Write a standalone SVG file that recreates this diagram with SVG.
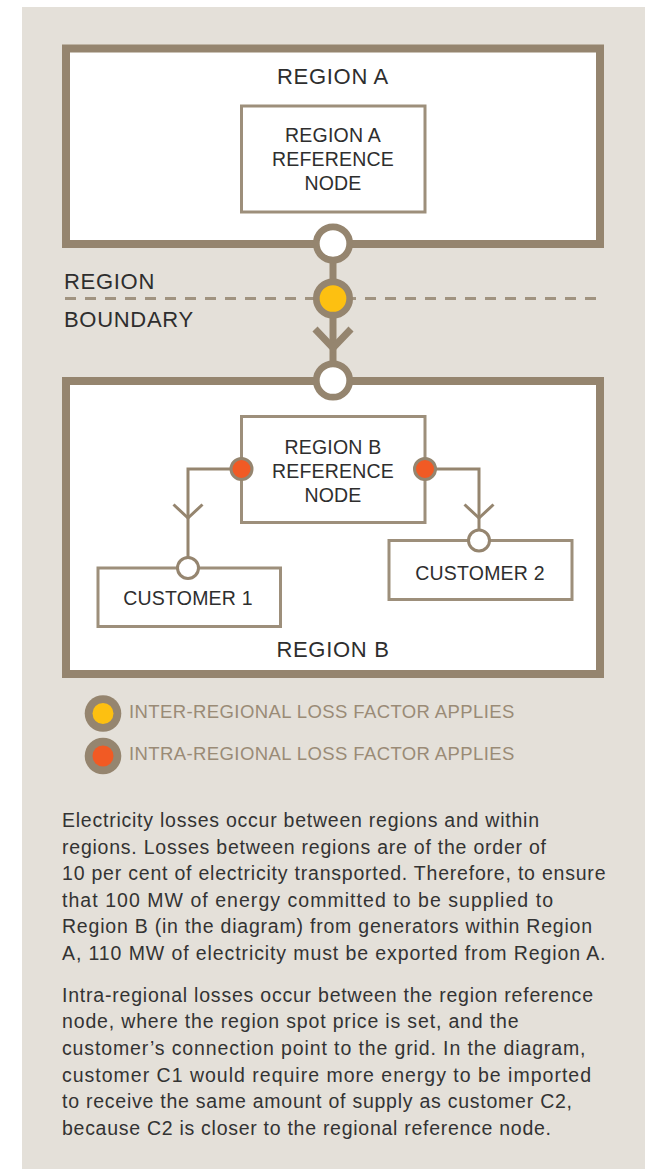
<svg xmlns="http://www.w3.org/2000/svg" width="652" height="1169" viewBox="0 0 652 1169">
<style>
.t{font-family:"Liberation Sans",Arial,sans-serif;fill:#2e2e2e}
.title{font-size:22px;letter-spacing:0.7px}
.node{font-size:19.5px;letter-spacing:0.2px}
.legend{font-family:"Liberation Sans",Arial,sans-serif;font-size:18.5px;letter-spacing:0.4px;fill:#9a8b76}
.body{font-size:19.5px;fill:#333}
.region{fill:#fff;stroke:#95856f;stroke-width:8}
.box{fill:#fff;stroke:#9d8f7b;stroke-width:3}
.big{stroke:#95856f;stroke-width:6.7}
.small{stroke:#95856f;stroke-width:3}
.line{fill:none;stroke:#95856f}
</style>
<rect x="22" y="7" width="623" height="1162" fill="#e4e0d9"/>
<line x1="65" y1="298.5" x2="602" y2="298.5" stroke="#a09380" stroke-width="3" stroke-dasharray="11 9"/>
<g id="region-a">
<rect class="region" x="66" y="48.5" width="534" height="195.5"/>
<text class="t title" x="333" y="84" text-anchor="middle">REGION A</text>
</g>
<g id="region-a-ref">
<rect class="box" x="241.5" y="106" width="183.5" height="106"/>
<text class="t node" x="333" y="142" text-anchor="middle">REGION A</text>
<text class="t node" x="333" y="166" text-anchor="middle">REFERENCE</text>
<text class="t node" x="333" y="190" text-anchor="middle">NODE</text>
</g>
<g id="boundary-label">
<text class="t title" x="64" y="289">REGION</text>
<text class="t title" x="64" y="327">BOUNDARY</text>
</g>
<g id="region-b">
<rect class="region" x="66" y="381" width="534" height="293"/>
<text class="t title" x="333" y="657" text-anchor="middle">REGION B</text>
</g>
<g id="region-b-ref">
<rect class="box" x="241.5" y="416.5" width="183.5" height="106"/>
<text class="t node" x="333" y="454" text-anchor="middle">REGION B</text>
<text class="t node" x="333" y="478" text-anchor="middle">REFERENCE</text>
<text class="t node" x="333" y="502" text-anchor="middle">NODE</text>
</g>
<g id="customer-1">
<rect class="box" x="98" y="568" width="182.5" height="58.5"/>
<text class="t node" x="188" y="605" text-anchor="middle">CUSTOMER 1</text>
</g>
<g id="customer-2">
<rect class="box" x="389" y="540.5" width="183" height="59"/>
<text class="t node" x="480" y="580" text-anchor="middle">CUSTOMER 2</text>
</g>
<g id="connectors">
<line class="line" x1="333" y1="243.5" x2="333" y2="380.5" stroke-width="7"/>
<polyline class="line" points="315,329 333,348 351,329" stroke-width="7"/>
<path class="line" d="M241.5,469 H188 V568" stroke-width="3"/>
<polyline class="line" points="173.5,504.5 188,518 202.5,504.5" stroke-width="3"/>
<path class="line" d="M425,469 H479 V540" stroke-width="3"/>
<polyline class="line" points="464.5,504.5 479,518 493.5,504.5" stroke-width="3"/>
<circle class="big" cx="333" cy="243.5" r="16.7" fill="#fff"/>
<circle class="big" cx="333" cy="298.5" r="16.7" fill="#fdc011"/>
<circle class="big" cx="333" cy="380.5" r="16.7" fill="#fff"/>
<circle class="small" cx="241.5" cy="469" r="10.5" fill="#f15a24"/>
<circle class="small" cx="425" cy="469" r="10.5" fill="#f15a24"/>
<circle class="small" cx="188" cy="568" r="10.5" fill="#fff"/>
<circle class="small" cx="479" cy="540.5" r="10.5" fill="#fff"/>
</g>
<g id="legend">
<circle cx="103" cy="713.5" r="18.3" fill="#95856f"/>
<circle cx="103" cy="713.5" r="10.5" fill="#fdc011"/>
<text class="legend" x="129" y="718">INTER-REGIONAL LOSS FACTOR APPLIES</text>
<circle cx="103" cy="756" r="18.3" fill="#95856f"/>
<circle cx="103" cy="756" r="10.5" fill="#f15a24"/>
<text class="legend" x="129" y="760">INTRA-REGIONAL LOSS FACTOR APPLIES</text>
</g>
<g id="text-1" class="t body">
<text x="62" y="827" textLength="477">Electricity losses occur between regions and within</text>
<text x="62" y="853.5" textLength="484">regions. Losses between regions are of the order of</text>
<text x="62" y="880" textLength="543.5">10 per cent of electricity transported. Therefore, to ensure</text>
<text x="62" y="906.5" textLength="491">that 100 MW of energy committed to be supplied to</text>
<text x="62" y="933" textLength="530">Region B (in the diagram) from generators within Region</text>
<text x="62" y="960" textLength="543.5">A, 110 MW of electricity must be exported from Region A.</text>
</g>
<g id="text-2" class="t body">
<text x="62" y="1001.5" textLength="531">Intra-regional losses occur between the region reference</text>
<text x="62" y="1028" textLength="456.5">node, where the region spot price is set, and the</text>
<text x="62" y="1055" textLength="523.5">customer’s connection point to the grid. In the diagram,</text>
<text x="62" y="1081.5" textLength="529">customer C1 would require more energy to be imported</text>
<text x="62" y="1108" textLength="510">to receive the same amount of supply as customer C2,</text>
<text x="62" y="1135" textLength="489">because C2 is closer to the regional reference node.</text>
</g>
</svg>
